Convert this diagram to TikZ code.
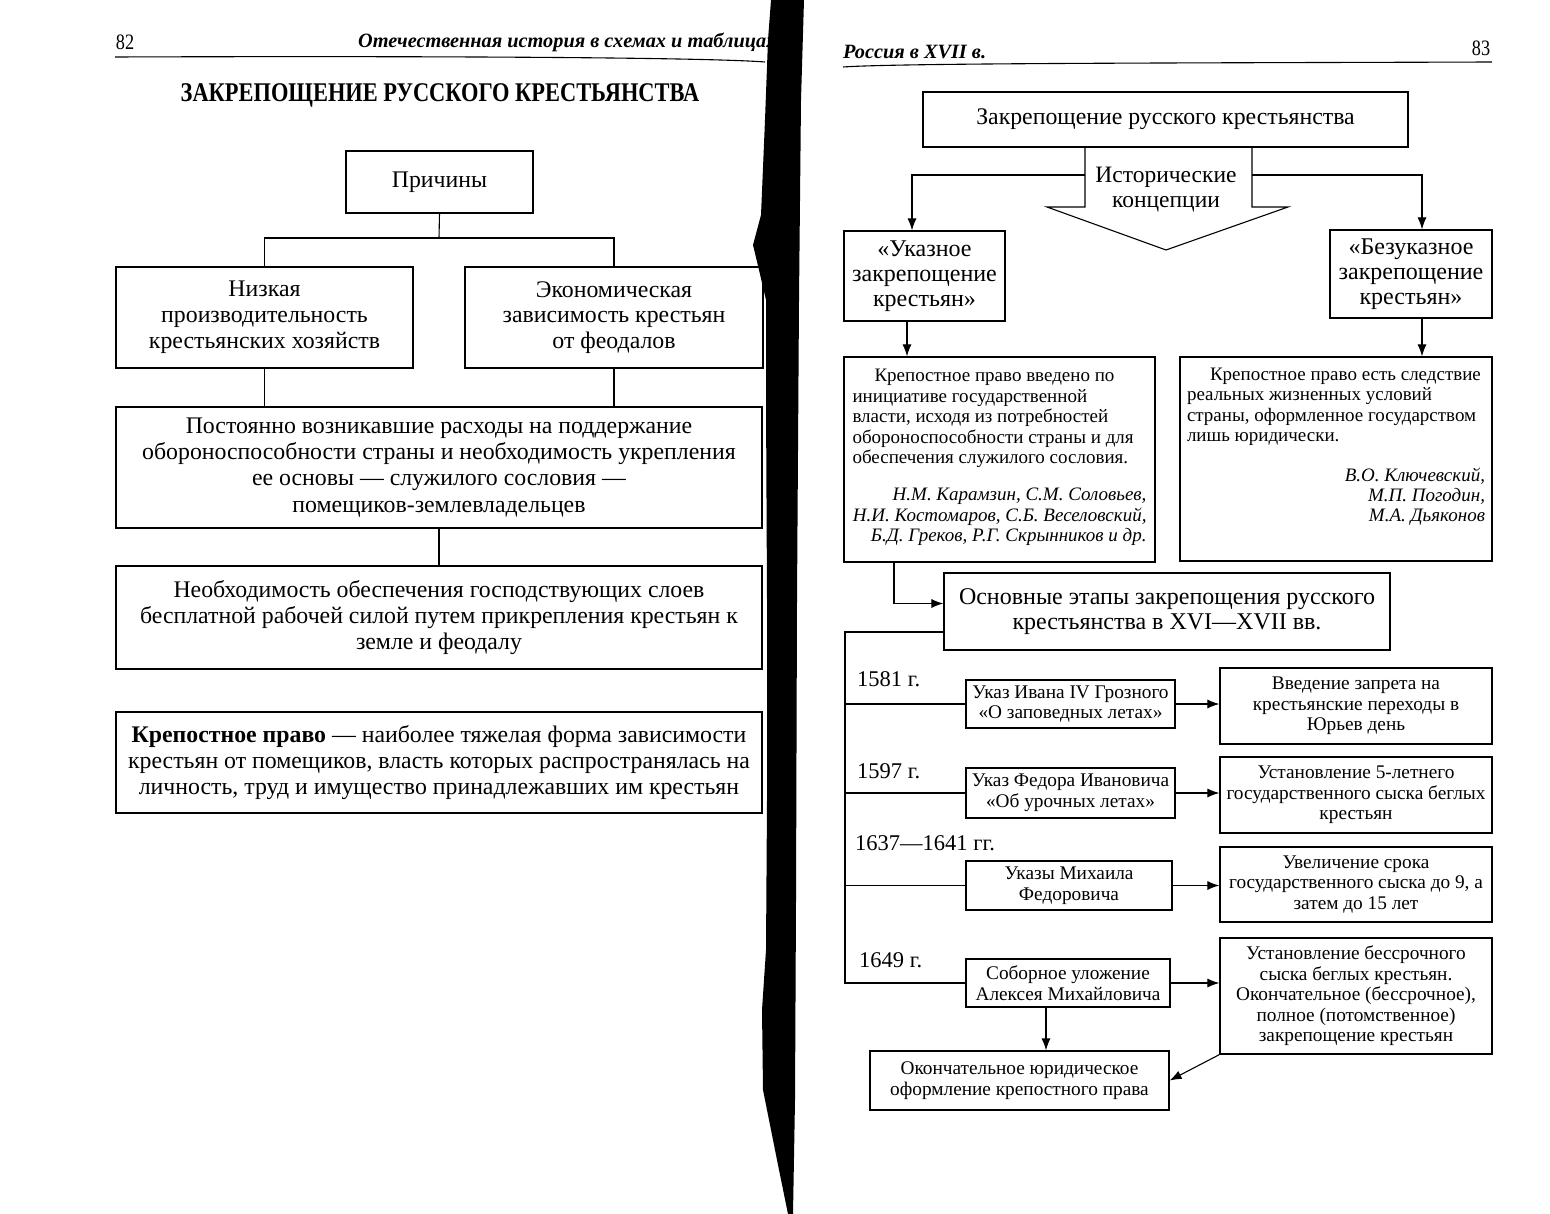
\documentclass[tikz,border=0pt]{standalone}
\usepackage{fontspec}
\setmainfont{Liberation Serif}
\newfontfamily\titlefont[FakeStretch=0.83]{Liberation Serif}
\usetikzlibrary{arrows.meta}

\tikzset{
  box/.style={draw, line width=1.2pt, align=center, inner sep=0pt, font=\fontsize{23.8}{25.8}\selectfont},
  smallbox/.style={box, font=\fontsize{19.3}{20.5}\selectfont},
  opbox/.style={draw, line width=1.2pt, inner sep=0pt, font=\fontsize{19}{20.4}\selectfont},
  year/.style={anchor=west, inner sep=0pt, font=\fontsize{22.5}{25}\selectfont},
  head/.style={inner sep=0pt, font=\fontsize{20.3}{22}\selectfont\bfseries\itshape},
  line/.style={line width=1.1pt},
  arr/.style={line width=1.1pt, -{Latex[length=12pt,width=9pt]}},
}

\begin{document}
\begin{tikzpicture}[x=1pt,y=-1pt]
\useasboundingbox (0,0) rectangle (1550,1214);

%cabeceras de las dos paginas
\node[inner sep=0pt, font=\fontsize{22}{22}\titlefont] (p82) at (125,42) {82};
\node[head, anchor=west] (hleft) at (358,42) {Отечественная история в схемах и таблицах};
\node[head, anchor=west] (hright) at (843,52) {Россия в XVII в.};
\node[inner sep=0pt, font=\fontsize{22}{22}\titlefont] (p83) at (1481,48) {83};
\draw [line] (115,57) .. controls (400,56) and (700,57) .. (765,62);
\draw [line] (843,67) .. controls (900,63) and (1200,63) .. (1492,62);

%pagina izquierda: causas
\node[inner sep=0pt, font=\fontsize{27}{28}\titlefont\bfseries] (title) at (440,95) {ЗАКРЕПОЩЕНИЕ РУССКОГО КРЕСТЬЯНСТВА};
\node[box, minimum width=187, minimum height=62] (prich) at (439.5,182) {Причины};
\node[box, minimum width=297, minimum height=101] (nizk) at (264.5,317.5) {Низкая\\производительность\\крестьянских хозяйств};
\node[box, minimum width=298, minimum height=101] (econ) at (614,317.5) {Экономическая\\зависимость крестьян\\от феодалов};
\node[box, font=\fontsize{23.8}{26.3}\selectfont, minimum width=646, minimum height=121] (post) at (439,467.5) {Постоянно возникавшие расходы на поддержание\\обороноспособности страны и необходимость укрепления\\ее основы — служилого сословия —\\помещиков-землевладельцев};
\node[box, minimum width=646, minimum height=103] (neob) at (439,617.5) {Необходимость обеспечения господствующих слоев\\бесплатной рабочей силой путем прикрепления крестьян к\\земле и феодалу};
\node[box, minimum width=646, minimum height=101] (kp) at (439,762.5) {\textbf{Крепостное право} — наиболее тяжелая форма зависимости\\крестьян от помещиков, власть которых распространялась на\\личность, труд и имущество принадлежавших им крестьян};

%lineas de la pagina izquierda
\coordinate (jn) at (439,238);
\draw [line] (prich.south) -- (jn);
\draw [line] (nizk.north) |- (jn) -| (econ.north);
\draw [line] (nizk.south) -- (nizk.south |- post.north);
\draw [line] (econ.south) -- (econ.south |- post.north);
\draw [line] (post.south) -- (neob.north);

%pagina derecha: concepciones
\node[box, minimum width=485, minimum height=55] (top) at (1165.5,119.5) {Закрепощение русского крестьянства};
\node[inner sep=0pt, align=center, font=\fontsize{23.5}{25}\selectfont] (hist) at (1166,190) {Исторические\\концепции};
\coordinate (hl) at (1085,175);
\coordinate (hr) at (1252,175);
\draw [line] (top.south -| hl) -- (1085,207) -- (1047,207) -- (1166,250) -- (1288,207) -- (1252,207) -- (top.south -| hr);
\node[box, font=\fontsize{24}{25}\selectfont, minimum width=161, minimum height=90] (ukaz) at (924.5,276) {«Указное\\закрепощение\\крестьян»};
\node[box, font=\fontsize{24}{25}\selectfont, minimum width=162, minimum height=88] (bez) at (1411,274) {«Безуказное\\закрепощение\\крестьян»};

\node[opbox, minimum width=311, minimum height=205] (op1) at (999.5,459.5) {\parbox[c][180pt][t]{294pt}{%
\hspace*{22pt}Крепостное право введено по\\
инициативе государственной\\
власти, исходя из потребностей\\
обороноспособности страны и для\\
обеспечения служилого сословия.\\[17pt]
\hspace*{\fill}\textit{Н.М. Карамзин, С.М. Соловьев,}\\
\hspace*{\fill}\textit{Н.И. Костомаров, С.Б. Веселовский,}\\
\hspace*{\fill}\textit{Б.Д. Греков, Р.Г. Скрынников и др.}}};
\node[opbox, minimum width=312, minimum height=204] (op2) at (1336,459) {\parbox[c][182pt][t]{298pt}{%
\hspace*{23pt}Крепостное право есть следствие\\
реальных жизненных условий\\
страны, оформленное государством\\
лишь юридически.\\[19pt]
\hspace*{\fill}\textit{В.О. Ключевский,}\\
\hspace*{\fill}\textit{М.П. Погодин,}\\
\hspace*{\fill}\textit{М.А. Дьяконов}}};

%flechas de las concepciones
\coordinate (ua) at (912,0);
\coordinate (ub) at (907,0);
\coordinate (ba) at (1422,0);
\draw [arr] (hl) -| (ukaz.north -| ua);
\draw [arr] (hr) -| (bez.north -| ba);
\draw [arr] (ukaz.south -| ub) -- (op1.north -| ub);
\draw [arr] (bez.south -| ba) -- (op2.north -| ba);

%etapas
\node[box, font=\fontsize{24}{25.5}\selectfont, minimum width=446, minimum height=77] (stages) at (1167,611.5) {Основные этапы закрепощения русского\\крестьянства в XVI—XVII вв.};
\coordinate (sa) at (894,0);
\draw [arr] (op1.south -| sa) |- ([yshift=8pt]stages.west);

\node[year] (y1) at (857,679) {1581 г.};
\node[year] (y2) at (857,771) {1597 г.};
\node[year] (y3) at (855,843) {1637—1641 гг.};
\node[year] (y4) at (859,960) {1649 г.};

\node[smallbox, minimum width=209, minimum height=48] (d1) at (1070.5,704) {Указ Ивана IV Грозного\\«О заповедных летах»};
\node[smallbox, minimum width=209, minimum height=50] (d2) at (1070.5,793) {Указ Федора Ивановича\\«Об урочных летах»};
\node[smallbox, minimum width=206, minimum height=49] (d3) at (1069,885.5) {Указы Михаила\\Федоровича};
\node[smallbox, minimum width=204, minimum height=48] (d4) at (1068,983) {Соборное уложение\\Алексея Михайловича};

\node[smallbox, minimum width=272, minimum height=76] (r1) at (1356,706) {Введение запрета на\\крестьянские переходы в\\Юрьев день};
\node[smallbox, minimum width=272, minimum height=76] (r2) at (1356,795) {Установление 5-летнего\\государственного сыска беглых\\крестьян};
\node[smallbox, minimum width=272, minimum height=75] (r3) at (1356,884.5) {Увеличение срока\\государственного сыска до 9, а\\затем до 15 лет};
\node[smallbox, minimum width=272, minimum height=116] (r4) at (1356,996) {Установление бессрочного\\сыска беглых крестьян.\\Окончательное (бессрочное),\\полное (потомственное)\\закрепощение крестьян};
\node[smallbox, minimum width=299, minimum height=59] (fin) at (1019.5,1080.5) {Окончательное юридическое\\оформление крепостного права};

%corchete de las etapas
\coordinate (br) at (845,632);
\draw [line] (br -| stages.west) -- (br) -- (br |- d4.west) -- (d4.west);
\foreach \d in {d1,d2,d3}
	\draw [line] (br |- \d.west) -- (\d.west);
\foreach \i in {1,2,3,4}
	\draw [arr] (d\i.east) -- (d\i.east -| r\i.west);
\coordinate (da) at (1046,0);
\draw [arr] (d4.south -| da) -- (fin.north -| da);
\draw [arr] (r4.south west) -- (fin.east);

%sombra del lomo del libro
\fill [black] (771,0) -- (804,0) -- (801,100) -- (799,300) -- (797,600) -- (796,900) -- (795,1100) -- (793,1214)
  -- (788,1214) -- (777,1160) -- (763,1090) -- (762,1010) -- (766,950) -- (767,800) -- (767,600)
  -- (766,400) -- (766,300) -- (759,270) -- (753,245) -- (761,215) -- (765,120) -- (768,40) -- cycle;
\end{tikzpicture}
\end{document}
